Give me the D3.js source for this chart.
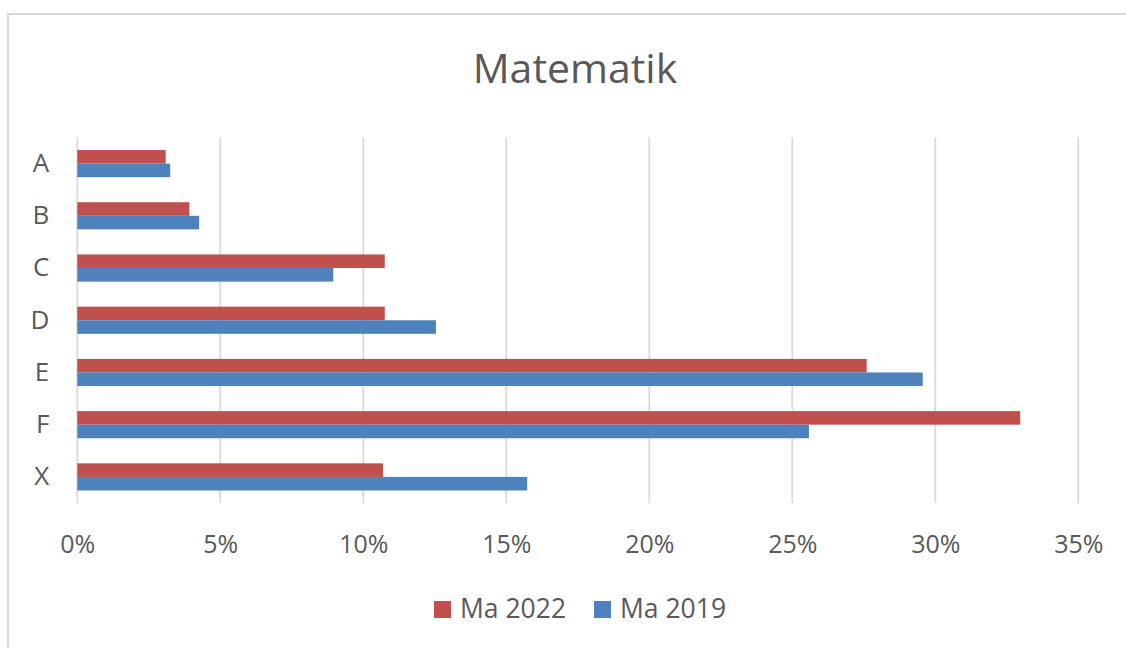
<!DOCTYPE html>
<html>
<head>
<meta charset="utf-8">
<script src="https://cdn.jsdelivr.net/npm/d3@7"></script>
<style>
  body { margin: 0; background: #fff; }
  svg { display: block; font-family: "Open Sans", sans-serif; }
</style>
</head>
<body>
<svg width="1126" height="648"></svg>
<script>
var categories = ["A", "B", "C", "D", "E", "F", "X"];
var seriesNames = ["Ma 2022", "Ma 2019"];
var ma2022 = [3.09, 3.92, 10.75, 10.75, 27.6, 32.97, 10.69];
var ma2019 = [3.25, 4.26, 8.95, 12.54, 29.56, 25.58, 15.73];
var xTicks = [0, 5, 10, 15, 20, 25, 30, 35];
var colors = ["#C0504D", "#4F81BD"];

var svg = d3.select("svg"),
    margin = {top: 137.5, right: 47.7, bottom: 145, left: 77.3},
    width = svg.attr("width") - margin.left - margin.right,
    height = svg.attr("height") - margin.top - margin.bottom;

// outer chart frame
svg.append("rect")
    .attr("x", 8).attr("y", 14)
    .attr("width", 1200).attr("height", 700)
    .attr("fill", "none")
    .attr("stroke", "#d9d9d9")
    .attr("stroke-width", 2);

svg.append("text")
    .attr("x", 575).attr("y", 83)
    .attr("text-anchor", "middle")
    .attr("fill", "#595959")
    .style("font-size", "41px")
    .text("Matematik");

var g = svg.append("g").attr("transform", "translate(" + margin.left + "," + margin.top + ")");

var x = d3.scaleLinear().domain([0, 35]).range([0, width]);
var y = d3.scaleBand().domain(categories).range([0, height]).paddingInner(0.48).paddingOuter(0.24);
var ySub = d3.scaleBand().domain(seriesNames).range([0, y.bandwidth()]);

// gridlines
g.selectAll(".grid")
    .data(xTicks)
    .enter().append("line")
      .attr("class", "grid")
      .attr("x1", function(d) { return x(d); })
      .attr("x2", function(d) { return x(d); })
      .attr("y1", 0)
      .attr("y2", height)
      .attr("stroke", "#d9d9d9")
      .attr("stroke-width", 1.8);

// x axis labels
var xAxis = g.append("g")
    .attr("transform", "translate(0," + height + ")")
    .call(d3.axisBottom(x).tickValues(xTicks).tickSize(0).tickPadding(0)
      .tickFormat(function(d) { return d + "%"; }));
xAxis.select(".domain").remove();
xAxis.selectAll("text")
    .attr("y", 50)
    .attr("dy", 0)
    .attr("fill", "#595959")
    .style("font-size", "25px")
    .style("font-family", "'Open Sans', sans-serif");

// y axis labels
var yAxis = g.append("g")
    .call(d3.axisLeft(y).tickSize(0).tickPadding(28));
yAxis.select(".domain").remove();
yAxis.selectAll("text")
    .attr("fill", "#595959")
    .style("font-size", "26px")
    .style("font-family", "'Open Sans', sans-serif");

var rows = categories.map(function(c, i) {
  return {cat: c, values: [ma2022[i], ma2019[i]]};
});

var grp = g.selectAll(".cat")
    .data(rows)
    .enter().append("g")
      .attr("class", "cat")
      .attr("transform", function(d) { return "translate(0," + y(d.cat) + ")"; });

grp.selectAll("rect")
    .data(function(d) { return d.values.map(function(v, j) { return {name: seriesNames[j], v: v, j: j}; }); })
    .enter().append("rect")
      .attr("x", x(0))
      .attr("y", function(d) { return ySub(d.name); })
      .attr("width", function(d) { return x(d.v) - x(0); })
      .attr("height", ySub.bandwidth())
      .attr("fill", function(d) { return colors[d.j]; });

// legend
var legend = svg.append("g");
var legendX = [434, 594];
seriesNames.forEach(function(n, i) {
  legend.append("rect")
      .attr("x", legendX[i]).attr("y", 601)
      .attr("width", 17).attr("height", 17)
      .attr("fill", colors[i]);
  legend.append("text")
      .attr("x", legendX[i] + 26).attr("y", 618)
      .attr("fill", "#595959")
      .style("font-size", "26.5px")
      .text(n);
});
</script>
</body>
</html>
